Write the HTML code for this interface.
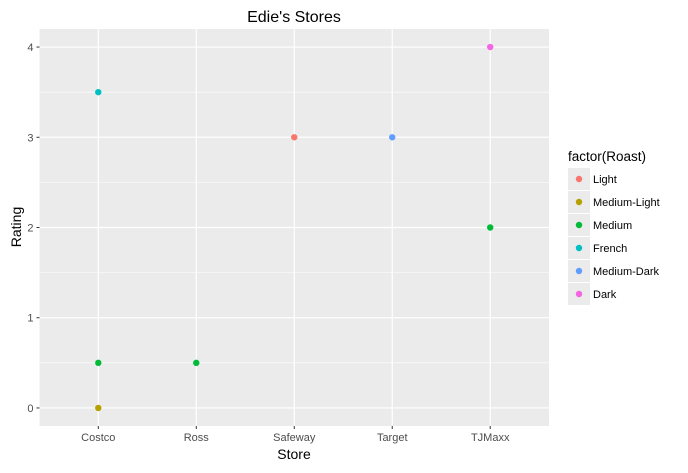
<!DOCTYPE html>
<html><head><meta charset="utf-8"><style>
body{margin:0;background:#fff;}
svg text{font-family:"Liberation Sans",Arial,sans-serif;}
</style></head><body>
<svg id="chart" width="688" height="468" xmlns="http://www.w3.org/2000/svg">
<rect x="0" y="0" width="688" height="468" fill="#fff"/>
<g id="panel"></g>
<text x="294" y="22" font-size="16" text-anchor="middle" fill="#000">Edie's Stores</text>
<text x="294" y="459" font-size="14" text-anchor="middle" fill="#000">Store</text>
<text x="21" y="227" font-size="14" text-anchor="middle" fill="#000" transform="rotate(-90 21 227)">Rating</text>
<g id="legend"></g>
</svg>
<script>
const categories=["Costco","Ross","Safeway","Target","TJMaxx"];
const pointStores=["Costco","Costco","Costco","Ross","Safeway","Target","TJMaxx","TJMaxx"];
const pointRatings=[3.5,0.5,0,0.5,3,3,4,2];
const pointRoasts=["French","Medium","Medium-Light","Medium","Light","Medium-Dark","Dark","Medium"];
const roastLevels=["Light","Medium-Light","Medium","French","Medium-Dark","Dark"];
const roastColors=["#F8766D","#B79F00","#00BA38","#00BFC4","#619CFF","#F564E3"];
const yTicks=[0,1,2,3,4];

const NS="http://www.w3.org/2000/svg";
const L=39.5,R=549,T=29,B=426;
const step=(R-L)/(categories.length+0.2);
function xs(c){return L+step*(0.6+categories.indexOf(c));}
const yMin=-0.2,yMax=4.2;
function ys(v){return B-(v-yMin)/(yMax-yMin)*(B-T);}
function mk(tag,attrs,parent){const e=document.createElementNS(NS,tag);for(const k in attrs)e.setAttribute(k,attrs[k]);parent.appendChild(e);return e;}
const panel=document.getElementById('panel');
const bg=mk('rect',{x:L,y:T,width:R-L,height:B-T,fill:'#EBEBEB'},panel);


for(let i=0;i<yTicks.length-1;i++){
  const v=(yTicks[i]+yTicks[i+1])/2;
  mk('line',{x1:L,x2:R,y1:ys(v),y2:ys(v),stroke:'#fff','stroke-width':0.6},panel);
}
yTicks.forEach(v=>{
  const g=mk('line',{x1:L,x2:R,y1:ys(v),y2:ys(v),stroke:'#fff','stroke-width':1.2},panel);
  
  
  mk('line',{x1:L-3,x2:L,y1:ys(v),y2:ys(v),stroke:'#333','stroke-width':1},panel);
  const t=mk('text',{x:L-6,y:ys(v)+4,'font-size':11,'text-anchor':'end',fill:'#4D4D4D'},panel);
  t.textContent=v;
  
  
});
categories.forEach(c=>{
  const x=xs(c);
  const g=mk('line',{x1:x,x2:x,y1:T,y2:B,stroke:'#fff','stroke-width':1.2},panel);
  
  
  mk('line',{x1:x,x2:x,y1:B,y2:B+3,stroke:'#333','stroke-width':1},panel);
  const t=mk('text',{x:x,y:B+15,'font-size':11,'text-anchor':'middle',fill:'#4D4D4D'},panel);
  t.textContent=c;
  
  
});
pointStores.forEach((s,i)=>{
  const p=mk('circle',{cx:xs(s),cy:ys(pointRatings[i]),r:3.2,fill:roastColors[roastLevels.indexOf(pointRoasts[i])]},panel);
  
  
});
const lg=document.getElementById('legend');
const lt=mk('text',{x:568,y:161,'font-size':13.5,fill:'#000'},lg);
lt.textContent='factor(Roast)';


roastLevels.forEach((r,i)=>{
  const y=168+i*23;
  const k=mk('rect',{x:568,y:y,width:22,height:22,fill:'#EBEBEB'},lg);
  
  
  mk('circle',{cx:579,cy:y+11,r:3.2,fill:roastColors[i]},lg);
  const t=mk('text',{x:593,y:y+15,'font-size':11,fill:'#000'},lg);
  t.textContent=r;
  
  
});
</script>
</body></html>
